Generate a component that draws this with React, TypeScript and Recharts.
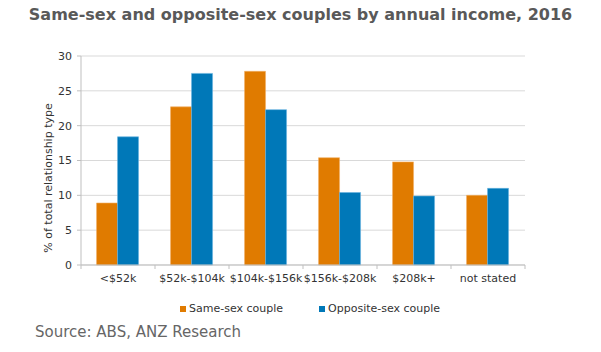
import { BarChart, Bar, XAxis, YAxis, CartesianGrid } from "recharts";

const categories = ["<$52k", "$52k-$104k", "$104k-$156k", "$156k-$208k", "$208k+", "not stated"];
const sameSex = [8.9, 22.7, 27.8, 15.4, 14.8, 10.0];
const oppositeSex = [18.4, 27.5, 22.3, 10.4, 9.9, 11.0];
const yTicks = [0, 5, 10, 15, 20, 25, 30];

const data = categories.map((c, i) => ({
  name: c,
  same: sameSex[i],
  opposite: oppositeSex[i],
}));

const FONT = "'DejaVu Sans', Verdana, sans-serif";
const ORANGE = "#E07B00";
const BLUE = "#0078B8";

const XTick = (props: any) => {
  const { x, y, payload, index, visibleTicksCount } = props;
  const off = payload.offset || 37;
  return (
    <g>
      <line x1={x - off} x2={x - off} y1={y} y2={y + 4} stroke="#BFBFBF" />
      {index === visibleTicksCount - 1 && (
        <line x1={x + off} x2={x + off} y1={y} y2={y + 4} stroke="#BFBFBF" />
      )}
      <text x={x} y={y + 17} textAnchor="middle" fontFamily={FONT} fontSize={11} fill="#333">
        {payload.value}
      </text>
    </g>
  );
};

const YLabel = () => (
  <text
    x={52}
    y={178}
    transform="rotate(-90 52 178)"
    textAnchor="middle"
    fontFamily={FONT}
    fontSize={11}
    fill="#333"
  >
    % of total relationship type
  </text>
);

export default function App() {
  return (
    <div
      style={{
        position: "absolute",
        left: 0,
        top: 0,
        width: 601,
        height: 352,
        background: "#fff",
        fontFamily: FONT,
      }}
    >
      <div
        style={{
          position: "absolute",
          top: 5,
          left: 0,
          width: 601,
          textAlign: "center",
          fontSize: 16,
          fontWeight: "bold",
          color: "#595959",
        }}
      >
        Same-sex and opposite-sex couples by annual income, 2016
      </div>
      <BarChart
        width={601}
        height={352}
        data={data}
        margin={{ top: 56, right: 76, left: 0, bottom: 57 }}
        barCategoryGap="21%"
        barGap={0}
      >
        <CartesianGrid vertical={false} stroke="#D9D9D9" />
        <XAxis
          dataKey="name"
          height={30}
          tick={<XTick />}
          tickLine={false}
          tickSize={0}
          tickMargin={0}
          interval={0}
          stroke="#BFBFBF"
        />
        <YAxis
          width={81}
          domain={[0, 30]}
          ticks={yTicks}
          tickSize={4}
          tickMargin={5}
          stroke="#BFBFBF"
          tick={{ fontFamily: FONT, fontSize: 11, fill: "#333" }}
          label={{ content: <YLabel /> }}
        />
        <Bar dataKey="same" fill={ORANGE} stroke="#F2B066" strokeWidth={0.6} isAnimationActive={false} />
        <Bar dataKey="opposite" fill={BLUE} stroke="#66B4E0" strokeWidth={0.6} isAnimationActive={false} />
      </BarChart>
      <div
        style={{
          position: "absolute",
          top: 302,
          left: 180,
          display: "flex",
          alignItems: "center",
          fontSize: 11,
          color: "#333",
        }}
      >
        <span style={{ width: 6, height: 6, background: ORANGE, marginRight: 3 }} />
        <span>Same-sex couple</span>
        <span style={{ width: 6, height: 6, background: BLUE, marginLeft: 36, marginRight: 3 }} />
        <span>Opposite-sex couple</span>
      </div>
      <div
        style={{
          position: "absolute",
          top: 323,
          left: 35,
          fontSize: 15,
          color: "#666",
        }}
      >
        Source: ABS, ANZ Research
      </div>
    </div>
  );
}
